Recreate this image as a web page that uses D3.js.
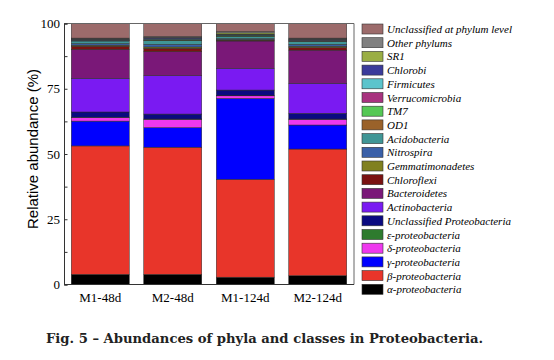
<!DOCTYPE html>
<html>
<head>
<meta charset="utf-8">
<script src="https://cdn.jsdelivr.net/npm/d3@7"></script>
<style>
  body { margin: 0; background: #fff; }
  svg { display: block; }
</style>
</head>
<body>
<svg id="chart" width="554" height="360"></svg>
<script>
// samples on the x axis
var samples = ['M1-48d', 'M2-48d', 'M1-124d', 'M2-124d'];

// taxa, bottom of the stack first
var taxa = ['α-proteobacteria', 'β-proteobacteria', 'γ-proteobacteria', 'δ-proteobacteria',
  'ε-proteobacteria', 'Unclassified Proteobacteria', 'Actinobacteria', 'Bacteroidetes',
  'Chloroflexi', 'Gemmatimonadetes', 'Nitrospira', 'Acidobacteria', 'OD1', 'TM7',
  'Verrucomicrobia', 'Firmicutes', 'Chlorobi', 'SR1', 'Other phylums',
  'Unclassified at phylum level'];

var colors = ['#000000', '#e8352a', '#0000ff', '#ee38ee', '#2e7b2e', '#0a0a80', '#7a1af2',
  '#7a1878', '#7a1212', '#808020', '#3a60a8', '#409696', '#9a622a', '#55c855', '#a8327f',
  '#5cc4cc', '#3b3b9b', '#9aae44', '#808080', '#9c6b6b'];

// relative abundance (%) per sample, same order as taxa
var m1_48 = [3.9, 49.2, 9.5, 1.4, 0.1, 2.0, 12.9, 11.1, 1.2, 0.4, 0.6, 1.0, 0.1, 0.1, 0.1, 0.2, 0.2, 0.1, 0.3, 5.6];
var m2_48 = [3.9, 48.7, 7.5, 3.2, 0.1, 1.9, 14.7, 9.2, 1.3, 0.5, 1.0, 1.4, 0.2, 0.1, 0.2, 0.3, 0.3, 0.1, 0.4, 5.0];
var m1_124 = [2.8, 37.5, 31.0, 1.0, 0.1, 2.1, 8.3, 10.5, 0.3, 0.3, 0.3, 0.8, 0.1, 0.2, 0.1, 0.2, 0.3, 0.5, 0.5, 3.1];
var m2_124 = [3.4, 48.5, 9.2, 2.2, 0.1, 2.2, 11.5, 12.7, 1.0, 0.5, 0.7, 1.2, 0.1, 0.1, 0.2, 0.2, 0.2, 0.1, 0.3, 5.6];

var yTicks = [0, 25, 50, 75, 100];

var rows = [m1_48, m2_48, m1_124, m2_124].map(function (vals, i) {
  var r = { sample: samples[i] };
  taxa.forEach(function (t, j) { r[t] = vals[j]; });
  return r;
});

var svg = d3.select('#chart');
var plotL = 64, plotR = 354, plotT = 23.5, plotB = 284.5;

var x = d3.scaleBand().domain(samples).range([plotL, plotR]).paddingInner(0.2).paddingOuter(0.1);
var y = d3.scaleLinear().domain([0, 100]).range([plotB, plotT]);
var color = d3.scaleOrdinal().domain(taxa).range(colors);

var stack = d3.stack().keys(taxa)(rows);

svg.append('g').selectAll('g')
  .data(stack)
  .enter()
  .append('g')
  .attr('fill', function (d) { return color(d.key); })
  .selectAll('rect')
  .data(function (d) { return d; })
  .enter()
  .append('rect')
  .attr('x', function (d) { return x(d.data.sample); })
  .attr('width', x.bandwidth())
  .attr('y', function (d) { return y(d[1]); })
  .attr('height', function (d) { return y(d[0]) - y(d[1]); })
  .attr('stroke', '#2a2a2a')
  .attr('stroke-width', 0.5);

// frame
svg.append('path')
  .attr('d', 'M' + plotL + ',' + plotT + 'H' + plotR + 'V' + plotB)
  .attr('fill', 'none')
  .attr('stroke', '#666')
  .attr('stroke-width', 1);

// y axis, ticks pointing inward
var yAxis = d3.axisRight(y).tickValues(d3.range(0, 101, 12.5)).tickSize(3.5).tickFormat('');
var ga = svg.append('g').attr('transform', 'translate(' + plotL + ',0)').call(yAxis);
ga.select('.domain').attr('stroke', '#333');
ga.selectAll('.tick line').attr('stroke', '#333');

svg.append('g').selectAll('text')
  .data(yTicks)
  .enter()
  .append('text')
  .attr('x', plotL - 4)
  .attr('y', function (d) { return y(d) + 4.5; })
  .attr('text-anchor', 'end')
  .style('font', '13px "Liberation Serif", serif')
  .text(function (d) { return d; });

// x axis
var xAxis = d3.axisBottom(x).tickSize(0).tickPadding(8);
var gx = svg.append('g').attr('transform', 'translate(0,' + plotB + ')').call(xAxis);
gx.select('.domain').attr('stroke', '#333').attr('d', 'M' + plotL + ',0H' + plotR);
gx.selectAll('text').style('font', '13px "Liberation Serif", serif').attr('fill', '#000');

svg.append('text')
  .attr('transform', 'translate(38,149) rotate(-90)')
  .attr('text-anchor', 'middle')
  .style('font', '15px "Liberation Sans", Arial, sans-serif')
  .text('Relative abundance (%)');

// legend, top entry first
var legend = svg.append('g').selectAll('g')
  .data(taxa.slice().reverse())
  .enter()
  .append('g')
  .attr('transform', function (d, i) { return 'translate(362,' + (24 + i * 13.7) + ')'; });

legend.append('rect')
  .attr('width', 21)
  .attr('height', 10)
  .attr('fill', function (d) { return color(d); })
  .attr('stroke', '#333')
  .attr('stroke-width', 0.6);

legend.append('text')
  .attr('x', 25)
  .attr('y', 9)
  .style('font', 'italic 11px "Liberation Serif", serif')
  .text(function (d) { return d; });

svg.append('text')
  .attr('x', 46)
  .attr('y', 343)
  .attr('textLength', 437)
  .attr('lengthAdjust', 'spacingAndGlyphs')
  .style('font', 'bold 13.5px "DejaVu Serif", serif')
  .attr('fill', '#222')
  .text('Fig. 5 – Abundances of phyla and classes in Proteobacteria.');
</script>
</body>
</html>
